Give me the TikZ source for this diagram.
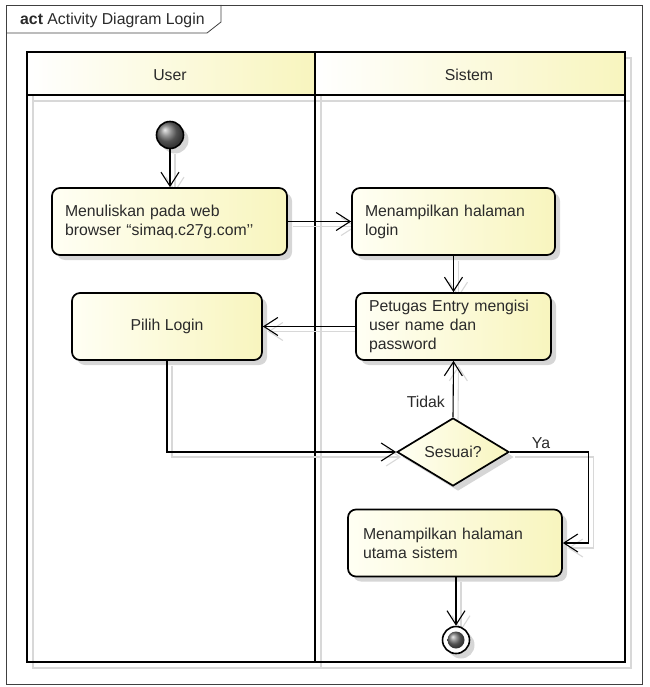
\documentclass[tikz,border=0pt]{standalone}
\usepackage{fontspec}
\setmainfont{Liberation Sans}
\usetikzlibrary{arrows.meta,shapes.geometric,shadows}
\pgfdeclarelayer{lanes}
\pgfdeclarelayer{ghosts}
\pgfsetlayers{lanes,ghosts,main}

\definecolor{paleY}{HTML}{FFFFF4}
\definecolor{deepY}{HTML}{F8F5BE}
\definecolor{ink}{HTML}{2A2A2A}
\definecolor{ghostgray}{HTML}{D8D8D8}

\tikzset{
  txt/.style={font=\fontsize{15.8}{19}\selectfont, text=ink},
  actbox/.style={txt, draw=black, line width=1.7pt, rounded corners=8pt,
    left color=paleY, right color=deepY, inner sep=0pt, minimum height=67pt,
    align=left,
    drop shadow={shadow xshift=5pt, shadow yshift=-5pt, fill=black, opacity=.16}},
  decision/.style={txt, diamond, draw=black, line width=1.7pt,
    left color=paleY, right color=deepY, inner sep=0pt, aspect=1.65,
    minimum width=112pt, minimum height=68pt,
    drop shadow={shadow xshift=5pt, shadow yshift=-5pt, fill=black, opacity=.16}},
  flow/.style={draw=black, line width=1.1pt,
    -{Straight Barb[length=14pt,width=18pt,line width=1.1pt]}},
  ghost/.style={draw=ghostgray, line width=1.1pt,
    transform canvas={shift={(5pt,-5pt)}},
    -{Straight Barb[length=14pt,width=18pt,line width=1.1pt]}},
  lbl/.style={txt, inner sep=0pt},
  lanehead/.style={draw=none, left color=white, right color=deepY},
}

\begin{document}
\begin{tikzpicture}[x=1pt, y=-1pt]
\useasboundingbox (0,0) rectangle (649,687);

% diagram frame with its name tab
\draw[draw=black!75, line width=0.8pt] (6,5) rectangle (642,684);
\draw[draw=black!75, line width=0.8pt] (6,33) -- (207,33) -- (221,22) -- (221,5);
\node[txt, anchor=west, inner sep=0pt] (title) at (20,20) {\textbf{act} Activity Diagram Login};

% swimlanes
\begin{pgfonlayer}{lanes}
  \draw[ghostgray, line width=2pt] (33,58) rectangle (631,668);
  \draw[ghostgray, line width=2pt] (33,101) -- (631,101);
  \draw[ghostgray, line width=2pt] (321,58) -- (321,668);
  \path[lanehead] (27,52) rectangle (315,95);
  \path[lanehead] (315,52) rectangle (625,95);
  \draw[black, line width=2pt] (27,52) rectangle (625,662);
  \draw[black, line width=2pt] (27,95) -- (625,95);
  \draw[black, line width=2pt] (315,52) -- (315,662);
\end{pgfonlayer}
\node[txt] (userLane) at (170,75) {User};
\node[txt] (sysLane) at (469,75) {Sistem};

% activity nodes
\node[circle, draw=black, line width=1.6pt, ball color=black!55, minimum size=27pt, inner sep=0pt,
  drop shadow={shadow xshift=5pt, shadow yshift=-5pt, fill=black, opacity=.16}] (start) at (170,135) {};

\node[actbox, minimum width=235pt, text width=209pt] (web) at (169.5,221.5)
  {Menuliskan pada web\\browser “simaq.c27g.com’’};
\node[actbox, minimum width=203pt, text width=177pt] (login) at (453.5,221.5)
  {Menampilkan halaman\\login};
\node[actbox, minimum width=195pt, text width=169pt] (entry) at (453.5,326.5)
  {Petugas Entry mengisi\\user name dan\\password};
\node[actbox, minimum width=190pt, align=center] (pilih) at (167,326.5) {Pilih Login};
\node[decision] (ok) at (453,452) {Sesuai?};
\node[actbox, minimum width=214pt, text width=184pt] (home) at (455,543)
  {Menampilkan halaman\\utama sistem};

\node[circle, draw=black, line width=1.6pt, fill=white, minimum size=27pt, inner sep=0pt,
  drop shadow={shadow xshift=5pt, shadow yshift=-5pt, fill=black, opacity=.16}] (stop) at (456,640) {};
\node[circle, ball color=black!55, minimum size=17pt, inner sep=0pt] (stopDot) at (stop) {};

% faint offset copies of the connectors
\begin{pgfonlayer}{ghosts}
  \draw[ghost] (start) -- (start |- web.north);
  \draw[ghost] (web.east) -- (login.west);
  \draw[ghost] (login.south) -- (entry.north);
  \draw[ghost] (entry.west) -- (pilih.east);
  \draw[ghost] (pilih.south) |- (ok.west);
  \draw[ghost] (ok.north) -- (entry.south);
  \draw[ghost] (ok.east) -- ++(79,0) |- (home.east);
  \draw[ghost] (home.south -| stop) -- (stop.north);
\end{pgfonlayer}

% control flow
\draw[flow] (start) -- (start |- web.north);
\draw[flow] (web.east) -- (login.west);
\draw[flow] (login.south) -- (entry.north);
\draw[flow] (entry.west) -- (pilih.east);
\draw[flow] (pilih.south) |- (ok.west);
\draw[flow] (ok.north) -- (entry.south);
\draw[flow] (ok.east) -- ++(79,0) |- (home.east);
\draw[flow] (home.south -| stop) -- (stop.north);

\node[lbl, anchor=east] (tidakLbl) at (445,402) {Tidak};
\node[lbl] (yaLbl) at (541,443) {Ya};
\end{tikzpicture}
\end{document}
